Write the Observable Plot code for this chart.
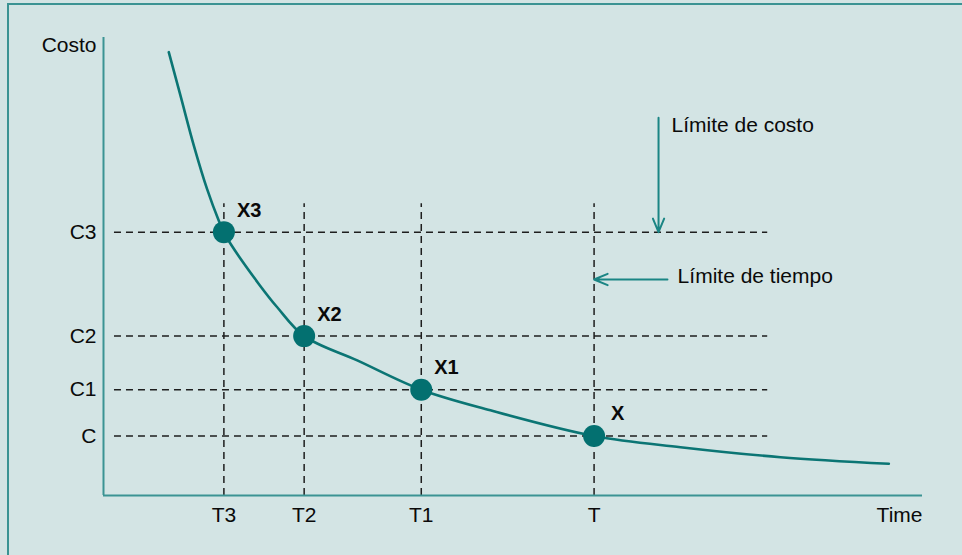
<!DOCTYPE html>
<html>
<head>
<meta charset="utf-8">
<script src="https://cdn.jsdelivr.net/npm/d3@7"></script>
<script src="https://cdn.jsdelivr.net/npm/@observablehq/plot@0.6"></script>
<style>
  html, body { margin: 0; padding: 0; background: #d3e4e4; overflow: hidden; }
  #wrap { position: relative; width: 962px; height: 555px; }
  #frame { position: absolute; left: 7px; top: 3px; width: 1000px; height: 600px;
           border-left: 2px solid #3b9393; border-top: 2px solid #3b9393; pointer-events: none; }
</style>
</head>
<body>
<div id="wrap"><div id="frame"></div></div>
<script>
// Categories / tick labels
const tLabels = ["T3", "T2", "T1", "T"];
const tValues = [14.7, 24.5, 38.8, 59.9];
const cLabels = ["C3", "C2", "C1", "C"];
const cValues = [57.5, 34.8, 23.1, 13.0];
const pointLabels = ["X3", "X2", "X1", "X"];

// Cost curve (time, cost)
const curveT = [7.97, 9.4, 11.03, 12.63, 14.08, 14.7, 15.51, 18.96, 21.21, 24.5, 30.98, 38.8, 47.25, 59.9, 70.45, 82.66, 95.89];
const curveC = [96.8, 87.3, 76.4, 67.0, 60.0, 57.5, 54.96, 46.2, 41.1, 34.8, 29.5, 23.1, 18.6, 13.0, 10.55, 8.36, 6.92];

// Guide-line extents
const gridStart = 1.34, gridEnd = 81.1, gridTop = 63.7;

// Annotations
const annoLabels = ["Límite de costo", "Límite de tiempo"];
const annoX = [69.35, 70.1];
const annoY = [80.8, 47.9];
const costArrow = {x1: 67.77, y1: 82.5, x2: 67.77, y2: 57.5};
const timeArrow = {x1: 68.86, y1: 47.16, x2: 59.9, y2: 47.16};

const curve = curveT.map((t, i) => ({t, c: curveC[i]}));
const points = tValues.map((t, i) => ({t, c: cValues[i], label: pointLabels[i]}));

const font = "'Liberation Sans', Arial, Helvetica, sans-serif";
const teal = "#0b7574";
const axisColor = "#3b9393";
const fs = 21;
const ink = "#0a0a0a";

const chart = Plot.plot({
  width: 962,
  height: 555,
  marginLeft: 103,
  marginRight: 40,
  marginTop: 37,
  marginBottom: 60,
  x: {domain: [0, 100], axis: null},
  y: {domain: [0, 100], axis: null},
  style: {background: "transparent", fontFamily: font},
  marks: [
    // dashed guides
    Plot.ruleY(cValues, {y: d => d, x1: gridStart, x2: gridEnd, stroke: "#1e1e1e", strokeWidth: 1.5, strokeDasharray: "7,5"}),
    Plot.ruleX(tValues, {x: d => d, y1: 0, y2: gridTop, stroke: "#1e1e1e", strokeWidth: 1.5, strokeDasharray: "7,5"}),
    // axes
    Plot.ruleX([0], {y1: 0, y2: 100, stroke: axisColor, strokeWidth: 2}),
    Plot.ruleY([0], {x1: 0, x2: 100, stroke: axisColor, strokeWidth: 2}),
    // curve
    Plot.line(curve, {x: "t", y: "c", curve: "catmull-rom", stroke: teal, strokeWidth: 2.6}),
    // points
    Plot.dot(points, {x: "t", y: "c", r: 11, fill: "#037070", stroke: "none"}),
    Plot.text(points.slice(0, 3), {x: "t", y: "c", text: "label", dx: 13, dy: -22, textAnchor: "start", lineAnchor: "middle", fontSize: 20, fontWeight: "bold", fill: ink}),
    Plot.text(points.slice(3), {x: "t", y: "c", text: "label", dx: 17, dy: -22, textAnchor: "start", lineAnchor: "middle", fontSize: 20, fontWeight: "bold", fill: ink}),
    // tick labels
    Plot.text(tLabels, {x: tValues, y: tLabels.map(() => 0), text: d => d, dy: 20, lineAnchor: "middle", fontSize: fs, fill: ink}),
    Plot.text(cLabels, {x: cLabels.map(() => 0), y: cValues, text: d => d, dx: -7, textAnchor: "end", lineAnchor: "middle", fontSize: fs, fill: ink}),
    Plot.text(["Costo"], {x: [0], y: [98.3], text: d => d, dx: -7, textAnchor: "end", lineAnchor: "middle", fontSize: fs, fill: ink}),
    Plot.text(["Time"], {x: [100], y: [0], text: d => d, dy: 20, textAnchor: "end", lineAnchor: "middle", fontSize: fs, fill: ink}),
    // annotations
    Plot.arrow([costArrow], {x1: "x1", y1: "y1", x2: "x2", y2: "y2", stroke: "#1a8584", strokeWidth: 2, headLength: 11, headAngle: 45}),
    Plot.arrow([timeArrow], {x1: "x1", y1: "y1", x2: "x2", y2: "y2", stroke: "#1a8584", strokeWidth: 2, headLength: 11, headAngle: 45}),
    Plot.text(annoLabels, {x: annoX, y: annoY, text: d => d, textAnchor: "start", lineAnchor: "middle", fontSize: fs, fill: ink})
  ]
});
chart.style.position = "absolute";
chart.style.left = "0px";
chart.style.top = "0px";
document.getElementById("wrap").appendChild(chart);
</script>
</body>
</html>
